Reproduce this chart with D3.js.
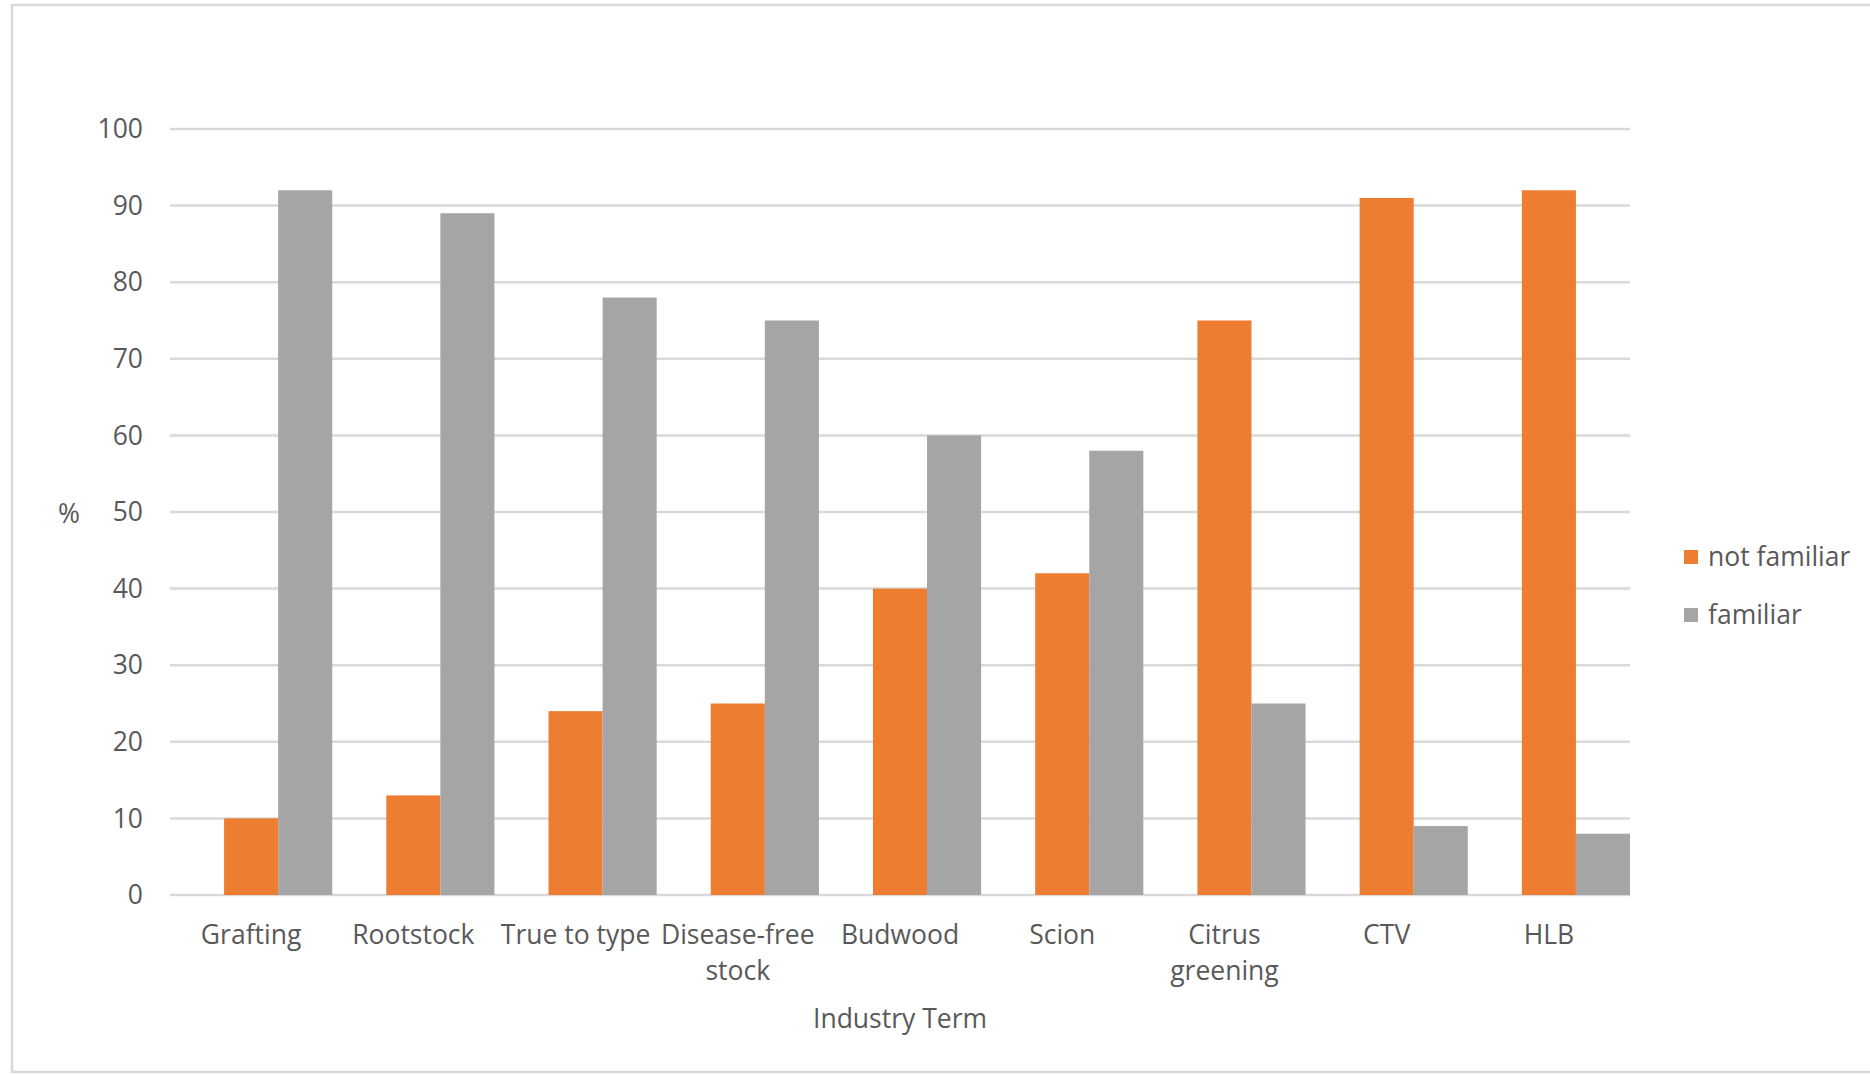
<!DOCTYPE html>
<html><head><meta charset="utf-8">
<script src="https://cdn.jsdelivr.net/npm/d3@7/dist/d3.min.js"></script>
<style>
html,body{margin:0;padding:0;background:#fff;}
svg{display:block;}
text{font-family:"Open Sans","Lato",sans-serif;fill:#595959;}
</style></head>
<body>
<svg id="chart" width="1870" height="1074"></svg>
<script>
const categories = ["Grafting","Rootstock","True to type","Disease-free stock","Budwood","Scion","Citrus greening","CTV","HLB"];
const categoryLines = [["Grafting"],["Rootstock"],["True to type"],["Disease-free","stock"],["Budwood"],["Scion"],["Citrus","greening"],["CTV"],["HLB"]];
const seriesNames = ["not familiar","familiar"];
const notFamiliar = [10,13,24,25,40,42,75,91,92];
const familiar = [92,89,78,75,60,58,25,9,8];
const yTicks = [0,10,20,30,40,50,60,70,80,90,100];
const colors = ["#ED7D31","#A5A5A5"];

const svg = d3.select("#chart");
svg.append("rect").attr("x",12).attr("y",5).attr("width",1900).attr("height",1067)
  .attr("fill","none").attr("stroke","#D9D9D9").attr("stroke-width",2.5);

const pLeft=170, pRight=1630, pTop=129, pBottom=895;
const fs = 26.5;
const x = d3.scaleBand().domain(categories).range([pLeft,pRight]).padding(0);
const y = d3.scaleLinear().domain([0,100]).range([pBottom,pTop]);
const sub = d3.scaleBand().domain(seriesNames).range([x.bandwidth()/3, x.bandwidth()]).padding(0);

svg.append("g").selectAll("line").data(yTicks).join("line")
  .attr("x1",pLeft).attr("x2",pRight)
  .attr("y1",d=>y(d)).attr("y2",d=>y(d))
  .attr("stroke","#D9D9D9").attr("stroke-width",2.5);

svg.append("g").selectAll("text").data(yTicks).join("text")
  .attr("x",143).attr("y",d=>y(d)).attr("dy","0.35em")
  .attr("text-anchor","end").attr("font-size",fs).text(d=>d);

const data = categories.map((c,i)=>({c, vals:[notFamiliar[i], familiar[i]]}));
const groups = svg.append("g").selectAll("g").data(data).join("g")
  .attr("transform",d=>`translate(${x(d.c)},0)`);
groups.selectAll("rect").data(d=>d.vals.map((v,j)=>({v,j}))).join("rect")
  .attr("x",d=>sub(seriesNames[d.j]))
  .attr("width",sub.bandwidth())
  .attr("y",d=>y(d.v))
  .attr("height",d=>y(0)-y(d.v))
  .attr("fill",d=>colors[d.j]);

const xl = svg.append("g").selectAll("text").data(categories).join("text")
  .attr("y",935).attr("text-anchor","middle").attr("font-size",fs);
xl.each(function(d,i){
  const t=d3.select(this);
  categoryLines[i].forEach((ln,k)=>{
    t.append("tspan").attr("x",x(d)+x.bandwidth()/2).attr("dy",k===0?"0.35em":"36").text(ln);
  });
});

svg.append("text").attr("x",(pLeft+pRight)/2).attr("y",1019).attr("dy","0.35em")
  .attr("text-anchor","middle").attr("font-size",fs).text("Industry Term");
svg.append("text").attr("x",69).attr("y",514).attr("dy","0.35em")
  .attr("text-anchor","middle").attr("font-size",fs).text("%");

const leg = svg.append("g").selectAll("g").data(seriesNames).join("g")
  .attr("transform",(d,i)=>`translate(1684,${557+i*58})`);
leg.append("rect").attr("x",0).attr("y",-7).attr("width",14).attr("height",14)
  .attr("fill",(d,i)=>colors[i]);
leg.append("text").attr("x",24).attr("y",0).attr("dy","0.35em")
  .attr("font-size",fs).text(d=>d);
</script>
</body></html>
